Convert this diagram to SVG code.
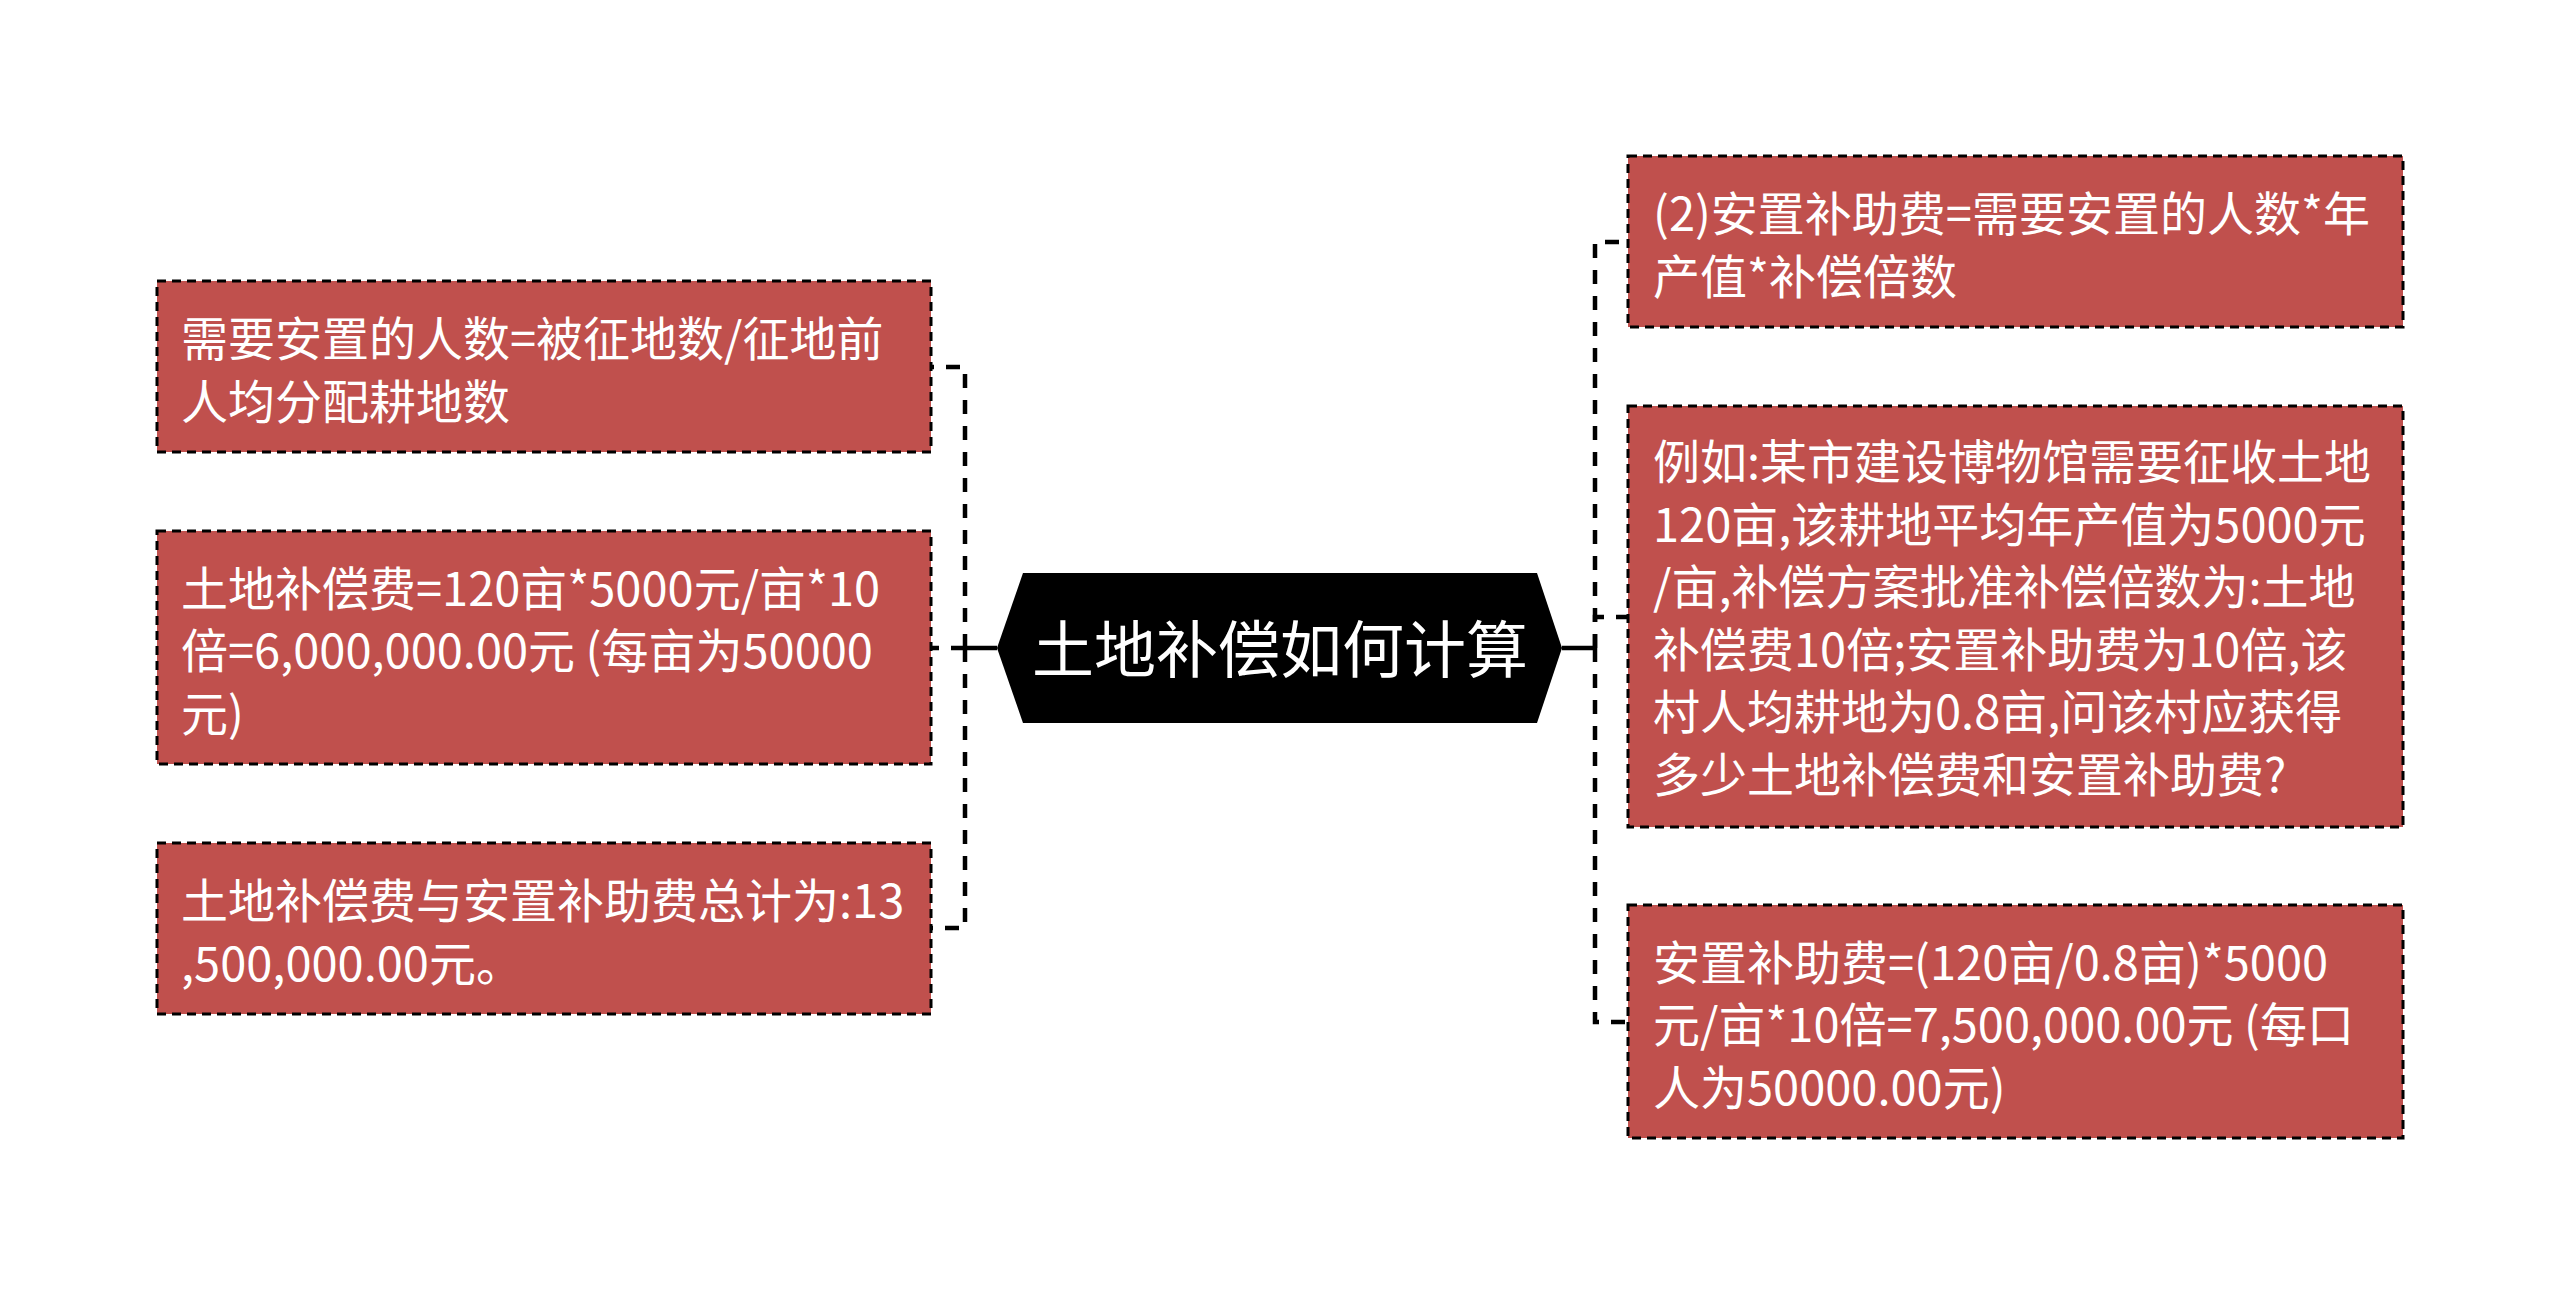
<svg xmlns="http://www.w3.org/2000/svg" width="2560" height="1295" viewBox="0 0 2560 1295">
<style>
.box{fill:#C0504D;stroke:#000;stroke-width:3;stroke-dasharray:9 6}
.t{font-family:"Noto Sans CJK SC","Microsoft YaHei",sans-serif;font-size:47px;fill:#fff;dominant-baseline:central}
.ct{font-family:"Noto Sans CJK SC","Microsoft YaHei",sans-serif;font-size:62px;fill:#fff;text-anchor:middle;dominant-baseline:central}
.dash{fill:none;stroke:#000;stroke-width:4.5;stroke-dasharray:14 12}
.solid{fill:none;stroke:#000;stroke-width:4.5}
</style>
<rect width="2560" height="1295" fill="#fff"/>
<g id="connectors">
<path class="solid" d="M997 648 H965"/>
<path class="dash" d="M965 648 V367 H931"/>
<path class="dash" d="M965 648 H931"/>
<path class="dash" d="M965 648 V928 H931"/>
<path class="solid" d="M1562 648 H1595"/>
<path class="dash" d="M1595 648 V242 H1628"/>
<path class="dash" d="M1595 648 V617 H1628"/>
<path class="dash" d="M1595 648 V1022 H1628"/>
</g>
<g id="root">
<polygon points="997,648 1023,573 1537,573 1562,648 1537,723 1023,723" fill="#000"/>
<text class="ct" x="1280" y="646">土地补偿如何计算</text>
</g>
<g id="left1">
<rect class="box" x="157" y="281" width="774" height="171"/>
<text class="t"><tspan x="181" y="335">需要安置的人数=被征地数/征地前</tspan><tspan x="181" y="398">人均分配耕地数</tspan></text>
</g>
<g id="left2">
<rect class="box" x="157" y="531" width="774" height="233"/>
<text class="t"><tspan x="181" y="585">土地补偿费=120亩*5000元/亩*10</tspan><tspan x="181" y="647">倍=6,000,000.00元 (每亩为50000</tspan><tspan x="181" y="710">元)</tspan></text>
</g>
<g id="left3">
<rect class="box" x="157" y="843" width="774" height="171"/>
<text class="t"><tspan x="181" y="897">土地补偿费与安置补助费总计为:13</tspan><tspan x="181" y="960">,500,000.00元。</tspan></text>
</g>
<g id="right1">
<rect class="box" x="1628" y="156" width="775" height="171"/>
<text class="t"><tspan x="1653" y="210">(2)安置补助费=需要安置的人数*年</tspan><tspan x="1653" y="273">产值*补偿倍数</tspan></text>
</g>
<g id="right2">
<rect class="box" x="1628" y="406" width="775" height="421"/>
<text class="t"><tspan x="1653" y="458">例如:某市建设博物馆需要征收土地</tspan><tspan x="1653" y="520.5">120亩,该耕地平均年产值为5000元</tspan><tspan x="1653" y="583">/亩,补偿方案批准补偿倍数为:土地</tspan><tspan x="1653" y="645.5">补偿费10倍;安置补助费为10倍,该</tspan><tspan x="1653" y="708">村人均耕地为0.8亩,问该村应获得</tspan><tspan x="1653" y="770.5">多少土地补偿费和安置补助费?</tspan></text>
</g>
<g id="right3">
<rect class="box" x="1628" y="905" width="775" height="233"/>
<text class="t"><tspan x="1653" y="959">安置补助费=(120亩/0.8亩)*5000</tspan><tspan x="1653" y="1021">元/亩*10倍=7,500,000.00元 (每口</tspan><tspan x="1653" y="1084">人为50000.00元)</tspan></text>
</g>
</svg>
